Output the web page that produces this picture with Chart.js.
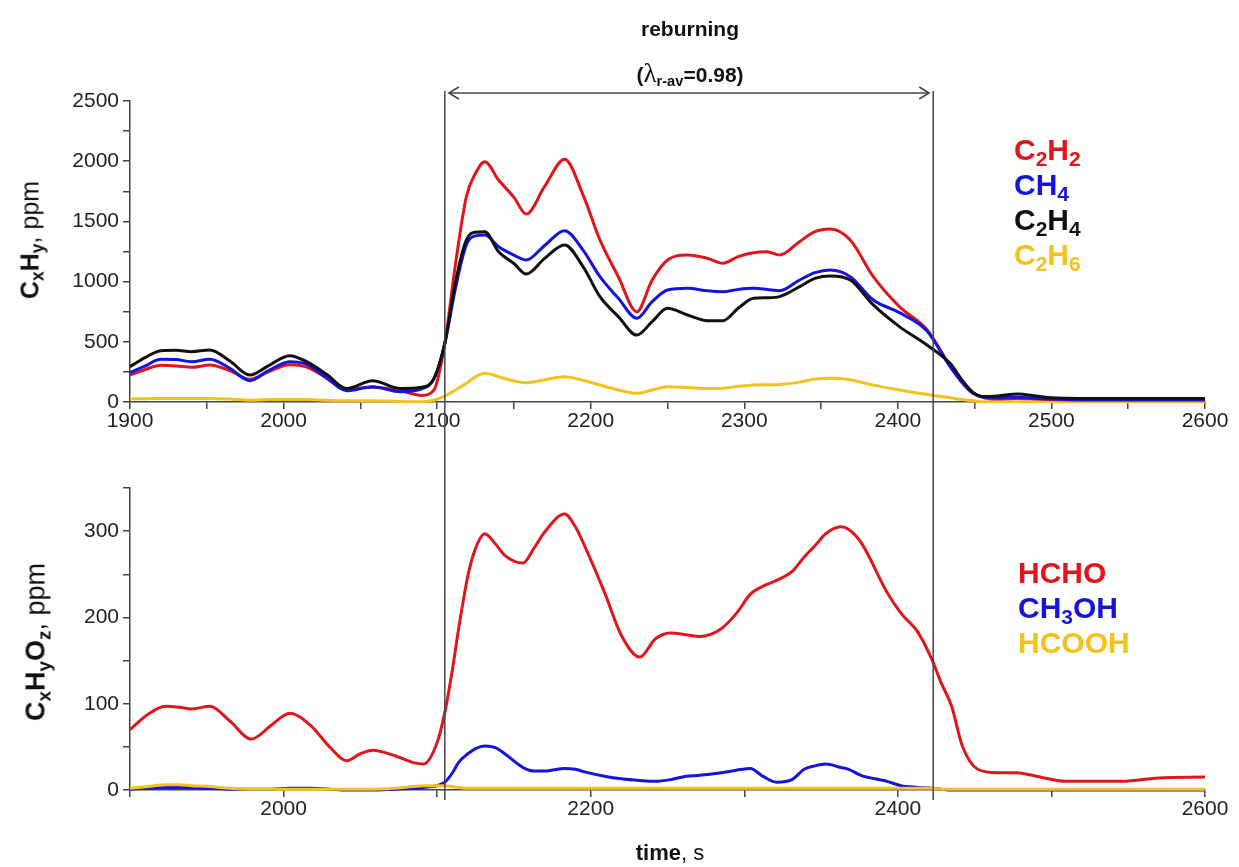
<!DOCTYPE html>
<html>
<head>
<meta charset="utf-8">
<script src="https://cdn.jsdelivr.net/npm/chart.js@4.4.1/dist/chart.umd.min.js"></script>
<style>
  html, body { margin: 0; padding: 0; background: #fff; }
  body { width: 1239px; height: 867px; position: relative; overflow: hidden;
         font-family: Arial, "Liberation Sans", sans-serif; color: #111; }
  #top-wrap { position: absolute; left: 0; top: 0; width: 1239px; height: 440px; }
  #bot-wrap { position: absolute; left: 0; top: 440px; width: 1239px; height: 427px; }
  .lbl { position: absolute; white-space: nowrap; }
  .ytitle { transform: translate(-50%, -50%) rotate(-90deg); font-size: 25px; }
  .ytitle b { font-weight: bold; }
  sub { font-size: 0.7em; vertical-align: -0.3em; line-height: 0; }
  .legend { position: absolute; font-weight: bold; font-size: 30px; line-height: 35px; }
  .title { transform: translateX(-50%); font-weight: bold; font-size: 21px; }
</style>
</head>
<body>
<div id="top-wrap"><canvas id="top-chart"></canvas></div>
<div id="bot-wrap"><canvas id="bot-chart"></canvas></div>

<div class="lbl title" style="left:690px; top:17px;">reburning</div>
<div class="lbl title" style="left:690px; top:58px;">(<span style="font-family:'Liberation Serif','DejaVu Serif',serif; font-weight:normal; font-size:27px;">λ</span><sub>r-av</sub>=0.98)</div>

<div class="lbl ytitle" style="left:30px; top:240px;"><b>C<sub>x</sub>H<sub>y</sub></b>, ppm</div>
<div class="lbl ytitle" style="left:36px; top:642px; font-size:27px;"><b>C<sub>x</sub>H<sub>y</sub>O<sub>z</sub></b>, ppm</div>

<div class="legend" style="left:1014px; top:132px;">
  <div style="color:#e0161c;">C<sub>2</sub>H<sub>2</sub></div>
  <div style="color:#1414dc;">CH<sub>4</sub></div>
  <div style="color:#111;">C<sub>2</sub>H<sub>4</sub></div>
  <div style="color:#f2c31c;">C<sub>2</sub>H<sub>6</sub></div>
</div>
<div class="legend" style="left:1018px; top:555px;">
  <div style="color:#e0161c;">HCHO</div>
  <div style="color:#1414dc;">CH<sub>3</sub>OH</div>
  <div style="color:#f2c31c;">HCOOH</div>
</div>

<div class="lbl" style="left:670px; top:840px; transform:translateX(-50%); font-size:22px;"><b>time</b>, s</div>

<script>
// ---- data ----
const timeTop = [1900,1910,1920,1930,1940,1952,1965,1978,1990,2004,2015,2028,2041,2058,2076,2090,2098,2105,2112,2119,2125,2131,2140,2150,2158,2170,2183,2195,2206,2218,2230,2240,2250,2263,2276,2286,2296,2306,2315,2323,2336,2346,2356,2369,2384,2401,2419,2434,2442,2449,2456,2465,2478,2490,2500,2520,2550,2580,2600];
const c2h2 = [224,270,305,300,288,307,260,188,250,310,290,200,105,122,94,55,100,487,1150,1705,1900,1996,1844,1700,1561,1790,2016,1720,1346,1040,750,1013,1179,1221,1193,1152,1207,1240,1248,1221,1332,1415,1437,1346,1041,792,600,300,160,72,35,25,30,25,20,15,15,15,15];
const ch4 = [243,300,355,352,335,355,280,177,260,335,315,200,94,127,86,110,196,487,950,1304,1380,1387,1290,1220,1179,1300,1423,1262,1041,861,695,833,930,944,924,916,935,944,935,924,1013,1074,1096,1041,847,742,590,293,160,72,40,35,40,30,25,20,20,20,20];
const c2h4 = [293,370,426,430,418,432,340,224,300,385,335,230,113,177,113,123,196,487,1000,1345,1410,1414,1248,1150,1063,1193,1304,1124,875,709,556,667,778,723,675,675,778,861,866,875,958,1027,1047,1013,806,626,473,321,180,80,45,50,66,50,35,30,30,30,30];
const c2h6 = [25,28,30,30,30,30,25,15,20,20,20,15,10,10,5,3,15,50,100,155,210,238,210,175,160,185,210,180,141,100,72,100,127,120,113,115,130,141,143,145,165,190,197,185,140,100,62,35,20,10,3,2,2,2,2,2,2,2,2];

const timeBottom = [1900,1912,1923,1932,1940,1952,1965,1979,1992,2004,2018,2030,2041,2050,2058,2072,2084,2091,2100,2105,2110,2114,2120,2125,2131,2138,2144,2156,2163,2170,2183,2190,2196,2209,2220,2232,2242,2252,2262,2271,2285,2295,2304,2312,2321,2331,2339,2346,2353,2363,2368,2376,2393,2402,2413,2422,2428,2435,2442,2452,2465,2477,2490,2509,2530,2546,2570,2600];
const hcho = [70,88,97,96,94,97,80,59,75,89,74,50,34,42,46,40,32,30,55,90,140,187,248,280,297,285,272,263,280,299,320,305,283,229,179,154,175,182,180,178,187,205,227,236,243,253,270,283,297,305,302,287,229,205,183,152,125,97,51,24,20,20,16,10,10,10,14,15];
const ch3oh = [1,2,3,3,3,2,1,1,1,2,2,1,0,0,0,1,2,3,5,9,20,32,42,48,51,49,42,26,22,22,25,24,21,16,13,11,10,12,16,17,20,23,25,16,9,12,24,28,30,26,24,17,10,5,3,2,1,0,0,0,0,0,0,0,0,0,0,0];
const hcooh = [2,4,6,6,5,4,2,1,1,1,1,1,1,1,1,2,4,5,5,5,4,3,2,2,2,2,2,2,2,2,2,2,2,2,2,2,2,2,2,2,2,2,2,2,2,2,2,2,2,2,2,2,2,2,2,2,1,1,1,1,1,1,1,1,1,1,1,1];

// reburning window, s
const reburningStart = 2105;
const reburningEnd = 2423;

const RED = "#e0161c";
const BLUE = "#1414dc";
const BLACK = "#111111";
const YELLOW = "#f2c31c";
const AXIS = "#444";
const FONT = "Arial, 'Liberation Sans', sans-serif";

Chart.defaults.font.family = FONT;
Chart.defaults.color = "#222";

function pts(times, values) {
  return times.map((t, i) => ({ x: t, y: values[i] }));
}

function series(label, times, values, color, order) {
  return {
    label,
    data: pts(times, values),
    borderColor: color,
    backgroundColor: color,
    borderWidth: 3,
    pointRadius: 0,
    cubicInterpolationMode: "monotone",
    clip: false,
    order,
  };
}

function axisX(labelEvery, step, height) {
  return {
    type: "linear",
    min: 1900,
    max: 2600,
    border: { display: true, color: AXIS, width: 1.5 },
    grid: { drawOnChartArea: false, drawTicks: true, tickLength: 7, color: AXIS, lineWidth: 1.5 },
    ticks: {
      stepSize: step,
      autoSkip: false,
      maxRotation: 0,
      padding: 0,
      font: { size: 21 },
      color: "#222",
      callback: (v) => (v % labelEvery === 0 ? String(v) : ""),
    },
    afterFit: (s) => { s.height = height; },
  };
}

function axisY(max, step, labelEvery) {
  return {
    min: 0,
    max,
    border: { display: true, color: AXIS, width: 1.5 },
    grid: { drawOnChartArea: false, drawTicks: true, tickLength: 7, color: AXIS, lineWidth: 1.5 },
    ticks: {
      stepSize: step,
      autoSkip: false,
      padding: 4,
      font: { size: 21 },
      color: "#222",
      callback: (v) => (v % labelEvery === 0 ? String(v) : ""),
    },
    afterFit: (s) => { s.width = 130; },
  };
}

function drawArrowHead(ctx, x, y, dir) {
  ctx.beginPath();
  ctx.moveTo(x - dir * 10, y - 6);
  ctx.lineTo(x, y);
  ctx.lineTo(x - dir * 10, y + 6);
  ctx.stroke();
}

// vertical markers + arrow on the top panel
const topMarkers = {
  id: "topMarkers",
  afterDatasetsDraw(chart) {
    const { ctx, chartArea, scales } = chart;
    const x1 = scales.x.getPixelForValue(reburningStart);
    const x2 = scales.x.getPixelForValue(reburningEnd);
    ctx.save();
    ctx.strokeStyle = "#444";
    ctx.lineWidth = 1.5;
    [x1, x2].forEach((x) => {
      ctx.beginPath();
      ctx.moveTo(x, chartArea.top - 10);
      ctx.lineTo(x, chart.height);
      ctx.stroke();
    });
    const ay = chartArea.top - 8;
    ctx.beginPath();
    ctx.moveTo(x1 + 4, ay);
    ctx.lineTo(x2 - 4, ay);
    ctx.stroke();
    drawArrowHead(ctx, x1 + 4, ay, -1);
    drawArrowHead(ctx, x2 - 4, ay, 1);
    ctx.restore();
  },
};

const bottomMarkers = {
  id: "bottomMarkers",
  afterDatasetsDraw(chart) {
    const { ctx, chartArea, scales } = chart;
    ctx.save();
    ctx.strokeStyle = "#444";
    ctx.lineWidth = 1.5;
    [reburningStart, reburningEnd].forEach((t) => {
      const x = scales.x.getPixelForValue(t);
      ctx.beginPath();
      ctx.moveTo(x, 0);
      ctx.lineTo(x, chartArea.bottom + 10);
      ctx.stroke();
    });
    ctx.restore();
  },
};

new Chart(document.getElementById("top-chart"), {
  type: "line",
  data: {
    datasets: [
      series("C2H6", timeTop, c2h6, YELLOW, 4),
      series("C2H2", timeTop, c2h2, RED, 3),
      series("CH4", timeTop, ch4, BLUE, 2),
      series("C2H4", timeTop, c2h4, BLACK, 1),
    ],
  },
  options: {
    responsive: true,
    maintainAspectRatio: false,
    animation: false,
    layout: { padding: { left: 0, top: 101, right: 34, bottom: 0 } },
    plugins: { legend: { display: false }, tooltip: { enabled: false } },
    scales: {
      x: axisX(100, 50, 38),
      y: axisY(2500, 250, 500),
    },
  },
  plugins: [topMarkers],
});

new Chart(document.getElementById("bot-chart"), {
  type: "line",
  data: {
    datasets: [
      series("HCHO", timeBottom, hcho, RED, 3),
      series("CH3OH", timeBottom, ch3oh, BLUE, 2),
      series("HCOOH", timeBottom, hcooh, YELLOW, 1),
    ],
  },
  options: {
    responsive: true,
    maintainAspectRatio: false,
    animation: false,
    layout: { padding: { left: 0, top: 48, right: 34, bottom: 0 } },
    plugins: { legend: { display: false }, tooltip: { enabled: false } },
    scales: {
      x: axisX(200, 100, 77),
      y: axisY(350, 50, 100),
    },
  },
  plugins: [bottomMarkers],
});
</script>
</body>
</html>
